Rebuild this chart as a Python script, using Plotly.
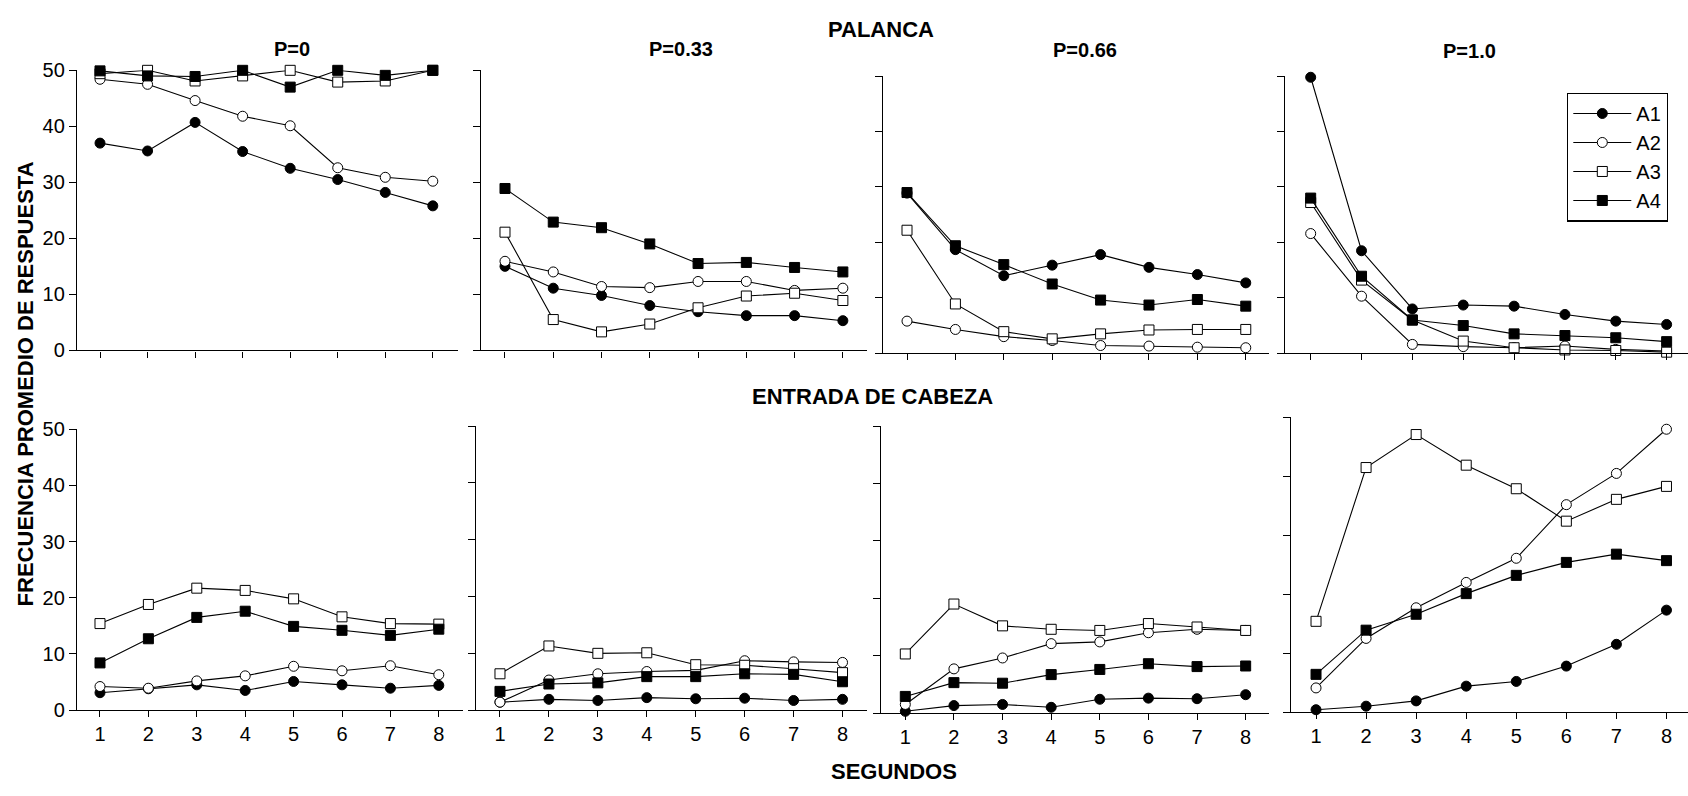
import plotly.graph_objects as go

W, H = 1688, 796

seconds = [1, 2, 3, 4, 5, 6, 7, 8]
series_names = ["A1", "A2", "A3", "A4"]
panel_titles = ["P=0", "P=0.33", "P=0.66", "P=1.0"]
y_ticks = [0, 10, 20, 30, 40, 50]

# ---- PALANCA (top row) ----
pal_p0_a1 = [37.0, 35.6, 40.7, 35.5, 32.5, 30.5, 28.2, 25.8]
pal_p0_a2 = [48.4, 47.5, 44.6, 41.8, 40.1, 32.6, 30.9, 30.2]
pal_p0_a3 = [49.4, 50.0, 48.1, 49.0, 50.0, 47.9, 48.1, 50.0]
pal_p0_a4 = [49.9, 49.0, 48.9, 50.0, 47.0, 50.0, 49.1, 50.0]

pal_p33_a1 = [15.0, 11.1, 9.8, 8.0, 6.9, 6.2, 6.2, 5.3]
pal_p33_a2 = [15.9, 14.0, 11.4, 11.2, 12.3, 12.3, 10.7, 11.1]
pal_p33_a3 = [21.1, 5.5, 3.3, 4.7, 7.6, 9.7, 10.2, 8.9]
pal_p33_a4 = [28.9, 22.9, 21.9, 19.0, 15.5, 15.7, 14.8, 14.0]

pal_p66_a1 = [28.9, 18.7, 14.0, 15.9, 17.8, 15.5, 14.2, 12.7]
pal_p66_a2 = [5.8, 4.3, 3.0, 2.3, 1.4, 1.3, 1.1, 1.0]
pal_p66_a3 = [22.2, 8.9, 3.9, 2.6, 3.5, 4.2, 4.3, 4.3]
pal_p66_a4 = [29.0, 19.4, 16.0, 12.5, 9.6, 8.7, 9.7, 8.5]

pal_p100_a1 = [49.8, 18.5, 8.0, 8.7, 8.5, 7.0, 5.8, 5.2]
pal_p100_a2 = [21.6, 10.3, 1.6, 1.2, 1.0, 1.3, 0.7, 0.4]
pal_p100_a3 = [27.2, 13.2, 6.0, 2.2, 1.0, 0.6, 0.5, 0.2]
pal_p100_a4 = [28.0, 13.9, 6.0, 5.0, 3.5, 3.2, 2.8, 2.1]

# ---- ENTRADA DE CABEZA (bottom row) ----
ent_p0_a1 = [3.1, 3.8, 4.5, 3.5, 5.1, 4.5, 3.9, 4.4]
ent_p0_a2 = [4.2, 3.9, 5.2, 6.1, 7.8, 7.0, 7.9, 6.3]
ent_p0_a3 = [15.4, 18.8, 21.7, 21.3, 19.8, 16.6, 15.4, 15.3]
ent_p0_a4 = [8.4, 12.7, 16.5, 17.6, 14.9, 14.2, 13.3, 14.4]

ent_p33_a1 = [1.4, 1.9, 1.7, 2.2, 2.0, 2.1, 1.7, 1.9]
ent_p33_a2 = [1.4, 5.3, 6.4, 6.8, 7.0, 8.7, 8.5, 8.4]
ent_p33_a3 = [6.4, 11.3, 10.0, 10.1, 8.0, 7.9, 7.3, 6.6]
ent_p33_a4 = [3.3, 4.6, 4.8, 5.9, 5.9, 6.4, 6.3, 5.0]

ent_p66_a1 = [0.3, 1.3, 1.5, 1.0, 2.4, 2.6, 2.5, 3.2]
ent_p66_a2 = [1.5, 7.7, 9.6, 12.1, 12.4, 14.0, 14.6, 14.4]
ent_p66_a3 = [10.3, 19.0, 15.2, 14.6, 14.4, 15.6, 15.0, 14.4]
ent_p66_a4 = [2.9, 5.3, 5.2, 6.7, 7.6, 8.6, 8.1, 8.2]

ent_p100_a1 = [0.4, 1.0, 1.9, 4.4, 5.2, 7.8, 11.5, 17.3]
ent_p100_a2 = [4.1, 12.5, 17.7, 22.0, 26.1, 35.2, 40.5, 48.0]
ent_p100_a3 = [15.4, 41.5, 47.1, 41.9, 37.9, 32.4, 36.1, 38.3]
ent_p100_a4 = [6.4, 13.9, 16.6, 20.1, 23.2, 25.4, 26.8, 25.7]

top_panels = [
    [pal_p0_a1, pal_p0_a2, pal_p0_a3, pal_p0_a4],
    [pal_p33_a1, pal_p33_a2, pal_p33_a3, pal_p33_a4],
    [pal_p66_a1, pal_p66_a2, pal_p66_a3, pal_p66_a4],
    [pal_p100_a1, pal_p100_a2, pal_p100_a3, pal_p100_a4],
]
bottom_panels = [
    [ent_p0_a1, ent_p0_a2, ent_p0_a3, ent_p0_a4],
    [ent_p33_a1, ent_p33_a2, ent_p33_a3, ent_p33_a4],
    [ent_p66_a1, ent_p66_a2, ent_p66_a3, ent_p66_a4],
    [ent_p100_a1, ent_p100_a2, ent_p100_a3, ent_p100_a4],
]

# ---- layout geometry (pixels) ----
# (x_left, x_right, y_top(50), y_bottom(0), xrange)
geom = [
    (77, 458, 61, 349, [0.516, 8.53]),
    (481, 867, 61, 349, [0.503, 8.50]),
    (883, 1269, 67, 352, [0.504, 8.48]),
    (1285, 1688, 67, 352, [0.495, 8.42]),
    (77, 463, 430, 719, [0.525, 8.50]),
    (476, 867, 427, 719, [0.51, 8.50]),
    (881, 1269, 427, 722, [0.50, 8.48]),
    (1291, 1688, 418, 721, [0.50, 8.43]),
]

marker_styles = [
    dict(symbol="circle", color="black", size=10, line=dict(color="black", width=1)),
    dict(symbol="circle", color="white", size=10, line=dict(color="black", width=1)),
    dict(symbol="square", color="white", size=10, line=dict(color="black", width=1)),
    dict(symbol="square", color="black", size=10, line=dict(color="black", width=1)),
]

FONT = "Liberation Sans, Arial, sans-serif"

fig = go.Figure()
all_panels = top_panels + bottom_panels
for p, panel in enumerate(all_panels):
    ax = "" if p == 0 else str(p + 1)
    for s, ys in enumerate(panel):
        fig.add_trace(go.Scatter(
            x=seconds, y=ys, mode="lines+markers",
            name=series_names[s], legendgroup=series_names[s],
            showlegend=(p == 3),
            line=dict(color="black", width=1.1),
            marker=marker_styles[s],
            cliponaxis=False,
            xaxis="x" + ax, yaxis="y" + ax,
        ))

layout_axes = {}
for p, (xl, xr, yt, yb, xr_range) in enumerate(geom):
    ax = "" if p == 0 else str(p + 1)
    bottom = p >= 4
    layout_axes["xaxis" + ax] = dict(
        domain=[xl / W, xr / W], range=xr_range, anchor="y" + ax,
        tickvals=seconds, ticktext=[str(v) for v in seconds],
        showticklabels=bottom, ticks="outside", ticklen=6, tickwidth=1,
        tickcolor="black", showline=True, linecolor="black", linewidth=1.3,
        showgrid=False, zeroline=False,
        tickfont=dict(family=FONT, size=20, color="black"),
    )
    layout_axes["yaxis" + ax] = dict(
        domain=[1 - yb / H, 1 - yt / H], range=[0, 50], anchor="x" + ax,
        tickvals=y_ticks, showticklabels=(p in (0, 4)),
        ticks="outside", ticklen=7, tickwidth=1, tickcolor="black",
        showline=True, linecolor="black", linewidth=1.3,
        showgrid=False, zeroline=False,
        tickfont=dict(family=FONT, size=20, color="black"),
    )

annotations = []
def add_text(text, x, y, size, angle=0):
    annotations.append(dict(
        text=text, x=x / W, y=1 - y / H, xref="paper", yref="paper",
        xanchor="center", yanchor="middle", showarrow=False, textangle=angle,
        font=dict(family=FONT, size=size, color="black"),
    ))

add_text("<b>PALANCA</b>", 881, 19, 22)
title_pos = [(292, 39), (681, 39), (1085, 40), (1469, 41)]
for t, (tx, ty) in zip(panel_titles, title_pos):
    add_text("<b>%s</b>" % t, tx, ty, 20)
add_text("<b>ENTRADA DE CABEZA</b>", 872, 396, 22)
add_text("<b>SEGUNDOS</b>", 894, 782, 22)
add_text("<b>FRECUENCIA PROMEDIO DE RESPUESTA</b>", 25, 384, 22, angle=-90)

fig.update_layout(
    width=W, height=H, autosize=False,
    margin=dict(l=0, r=0, t=0, b=0),
    paper_bgcolor="white", plot_bgcolor="white",
    annotations=annotations,
    legend=dict(
        x=1567 / W, y=1 - 84 / H, xanchor="left", yanchor="top",
        bgcolor="white", bordercolor="black", borderwidth=1.3,
        font=dict(family=FONT, size=20, color="black"),
        tracegroupgap=0, itemwidth=58,
    ),
    **layout_axes,
)

fig.write_html("out.html")
